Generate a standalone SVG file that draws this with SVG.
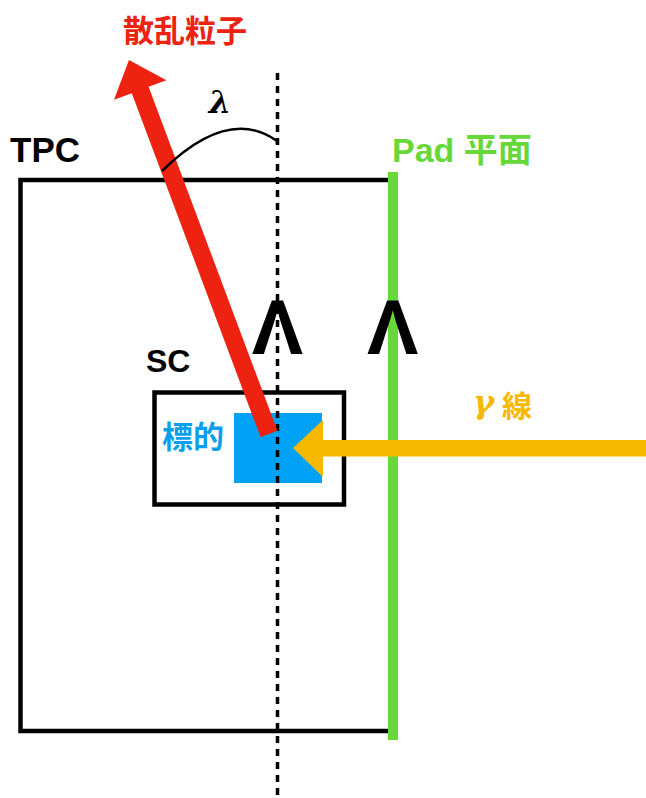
<svg xmlns="http://www.w3.org/2000/svg" width="646" height="798" viewBox="0 0 646 798">
<style>
.lbl{font-family:"Liberation Sans","Noto Sans CJK JP",sans-serif;font-weight:bold}
.box{fill:none;stroke:#000;stroke-width:4.5}
.chev{font-family:"Liberation Sans",sans-serif;font-weight:bold;font-size:77px;text-anchor:middle;fill:#000}
.math{font-family:"DejaVu Serif",serif;font-style:italic;font-weight:bold}
</style>
<rect width="646" height="798" fill="#fff"/>
<g id="tpc">
<rect class="box" x="20.5" y="180" width="372" height="551"/>
<text class="lbl" x="10" y="162" font-size="35" fill="#000">TPC</text>
</g>
<g id="sc">
<rect class="box" x="154.5" y="392.5" width="189.5" height="112"/>
<text class="lbl" x="146" y="372" font-size="32" fill="#000">SC</text>
</g>
<g id="target">
<rect x="234" y="413" width="88" height="70" fill="#00A2F7"/>
<text class="lbl" x="162" y="448" font-size="31" fill="#0A9FEC">標的</text>
</g>
<g id="pad">
<rect x="388" y="172" width="10" height="568" fill="#66D83A"/>
<text class="lbl" x="392" y="162" font-size="34" fill="#66D83A">Pad 平面</text>
</g>
<g id="connectors">
<line x1="277.5" y1="73" x2="277.5" y2="798" stroke="#000" stroke-width="3.5" stroke-dasharray="7 6"/>
<polygon points="260.6,437.2 277.4,430.8 148.6,86.8 166.4,80.2 129,60 114,99.8 131.8,93.2" fill="#EE2211"/>
<path d="M162,171 Q228,106 277,141 L277,144" fill="none" stroke="#000" stroke-width="2.5"/>
<polygon points="646,440 323,440 323,420 293,448 323,477 323,456.5 646,456.5" fill="#F7B900"/>
</g>
<g id="chevrons">
<text class="chev" x="277.5" y="354">Λ</text>
<text class="chev" x="392.8" y="354">Λ</text>
</g>
<g id="labels">
<text class="lbl" x="123" y="42" font-size="31" fill="#EE2211">散乱粒子</text>
<text class="math" x="220" y="113" font-size="32" text-anchor="middle" fill="#000">λ</text>
<text class="lbl" y="417" font-size="30" fill="#F7B900"><tspan class="math" x="473" y="413" font-size="32">γ</tspan><tspan x="502" y="417">線</tspan></text>
</g>
</svg>
